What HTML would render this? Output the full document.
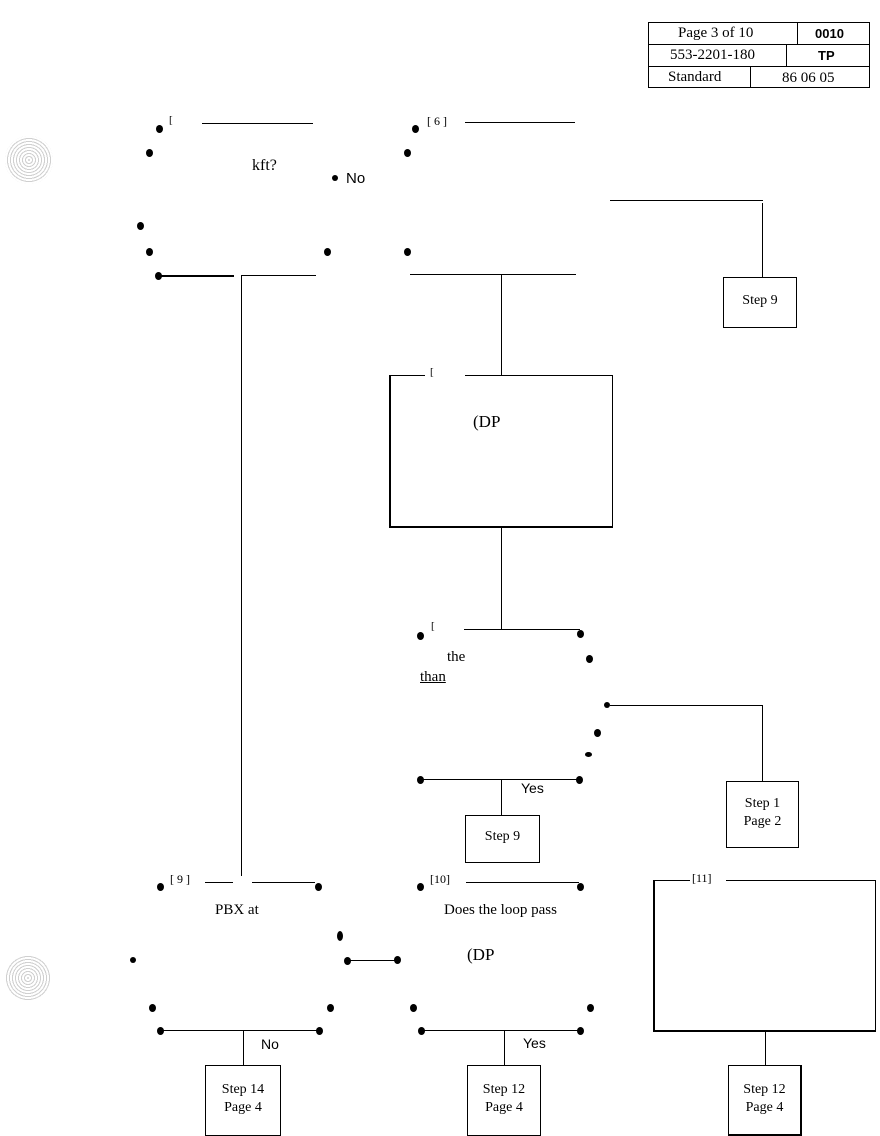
<!DOCTYPE html>
<html><head><meta charset="utf-8"><style>
body{margin:0;width:880px;height:1136px;background:#fff;position:relative;overflow:hidden;font-family:"Liberation Serif",serif;color:#000}
div,span{position:absolute}
.h{height:1px;background:#000}
.v{width:1px;background:#000}
.d{width:7px;height:8px;border-radius:50%;background:#000}
.b{border:1px solid #000;box-sizing:border-box;text-align:center;font-size:14px;line-height:18px}
.t{font-size:14px;white-space:nowrap}
.s{font-family:"Liberation Sans",sans-serif;font-size:14px}
.c{border-radius:50%;background:repeating-radial-gradient(circle,#bbb 0 1px,#fff 1px 3px);opacity:.7}
</style></head><body>
<!-- header table -->
<div style="left:648px;top:22px;width:222px;height:66px;border:1px solid #000;box-sizing:border-box"></div>
<div class="h" style="left:648px;top:44px;width:222px"></div>
<div class="h" style="left:648px;top:66px;width:222px"></div>
<div class="v" style="left:797px;top:22px;height:22px"></div>
<div class="v" style="left:786px;top:44px;height:22px"></div>
<div class="v" style="left:750px;top:66px;height:22px"></div>
<span class="t" style="left:678px;top:25px;font-size:15px">Page 3 of 10</span>
<span class="s" style="left:815px;top:26px;font-weight:bold;font-size:13px">0010</span>
<span class="t" style="left:670px;top:47px;font-size:15px">553-2201-180</span>
<span class="s" style="left:818px;top:48px;font-weight:bold;font-size:13px">TP</span>
<span class="t" style="left:668px;top:69px;font-size:15px">Standard</span>
<span class="t" style="left:782px;top:70px;font-size:15px">86 06 05</span>

<div class="c" style="left:5px;top:136px;width:48px;height:48px"></div>
<div class="c" style="left:5px;top:955px;width:46px;height:46px"></div>

<!-- decision 1 -->
<div class="d" style="left:156px;top:125px"></div>
<span class="t" style="left:169px;top:114px;font-size:11px">[</span>
<div class="h" style="left:202px;top:123px;width:111px"></div>
<div class="d" style="left:146px;top:149px"></div>
<span class="t" style="left:252px;top:157px;font-size:16px">kft?</span>
<div class="d" style="left:332px;top:175px;width:6px;height:6px"></div>
<span class="s" style="left:346px;top:170px;font-size:15px">No</span>
<div class="d" style="left:137px;top:222px"></div>
<div class="d" style="left:146px;top:248px"></div>
<div class="d" style="left:324px;top:248px"></div>
<div class="d" style="left:155px;top:272px"></div>
<div style="left:160px;top:275px;width:74px;height:2px;background:#000"></div>
<div class="h" style="left:241px;top:275px;width:75px"></div>
<div class="v" style="left:241px;top:275px;height:601px"></div>

<!-- decision 2 -->
<div class="d" style="left:412px;top:125px"></div>
<span class="t" style="left:427px;top:114px;font-size:12px">[ 6 ]</span>
<div class="h" style="left:465px;top:122px;width:110px"></div>
<div class="d" style="left:404px;top:149px"></div>
<div class="d" style="left:404px;top:248px"></div>
<div class="h" style="left:410px;top:274px;width:166px"></div>
<div class="h" style="left:610px;top:200px;width:153px"></div>
<div class="v" style="left:762px;top:203px;height:75px"></div>
<div class="b" style="left:723px;top:277px;width:74px;height:51px;padding-top:14px">Step 9</div>
<div class="v" style="left:501px;top:274px;height:102px"></div>

<!-- process box -->
<div style="left:389px;top:375px;width:224px;height:153px;border:1px solid #000;border-width:1px 1px 2px 2px;box-sizing:border-box"></div>
<div style="left:425px;top:368px;width:40px;height:12px;background:#fff"></div>
<span class="t" style="left:430px;top:366px;font-size:11px">[</span>
<span class="t" style="left:473px;top:412px;font-size:17px">(DP</span>
<div class="v" style="left:501px;top:528px;height:101px"></div>

<!-- decision 3 -->
<div class="d" style="left:417px;top:632px"></div>
<span class="t" style="left:431px;top:620px;font-size:11px">[</span>
<div class="h" style="left:464px;top:629px;width:116px"></div>
<div class="d" style="left:577px;top:630px"></div>
<div class="d" style="left:586px;top:655px"></div>
<span class="t" style="left:447px;top:649px;font-size:15px">the</span>
<span class="t" style="left:420px;top:669px;font-size:15px;text-decoration:underline">than</span>
<div class="d" style="left:604px;top:702px;width:6px;height:6px"></div>
<div class="h" style="left:610px;top:705px;width:153px"></div>
<div class="v" style="left:762px;top:705px;height:77px"></div>
<div class="b" style="left:726px;top:781px;width:73px;height:67px;padding-top:13px">Step 1<br>Page 2</div>
<div class="d" style="left:594px;top:729px"></div>
<div class="d" style="left:585px;top:752px;height:5px"></div>
<div class="d" style="left:417px;top:776px"></div>
<div class="d" style="left:576px;top:776px"></div>
<div class="h" style="left:421px;top:779px;width:158px"></div>
<span class="s" style="left:521px;top:780px;font-size:14px">Yes</span>
<div class="v" style="left:501px;top:779px;height:37px"></div>
<div class="b" style="left:465px;top:815px;width:75px;height:48px;padding-top:12px">Step 9</div>

<!-- decision 9 -->
<div class="d" style="left:157px;top:883px"></div>
<span class="t" style="left:170px;top:872px;font-size:12px">[ 9 ]</span>
<div class="h" style="left:205px;top:882px;width:28px"></div>
<div class="h" style="left:252px;top:882px;width:63px"></div>
<div class="d" style="left:315px;top:883px"></div>
<span class="t" style="left:215px;top:902px;font-size:15px">PBX at</span>
<div class="d" style="left:337px;top:931px;width:6px;height:10px"></div>
<div class="d" style="left:130px;top:957px;width:6px;height:6px"></div>
<div class="d" style="left:344px;top:957px"></div>
<div class="h" style="left:350px;top:960px;width:46px"></div>
<div class="d" style="left:394px;top:956px"></div>
<div class="d" style="left:149px;top:1004px"></div>
<div class="d" style="left:327px;top:1004px"></div>
<div class="d" style="left:157px;top:1027px"></div>
<div class="d" style="left:316px;top:1027px"></div>
<div class="h" style="left:161px;top:1030px;width:158px"></div>
<span class="s" style="left:261px;top:1036px">No</span>
<div class="v" style="left:243px;top:1030px;height:36px"></div>
<div class="b" style="left:205px;top:1065px;width:76px;height:71px;padding-top:15px">Step 14<br>Page 4</div>

<!-- decision 10 -->
<div class="d" style="left:417px;top:883px"></div>
<span class="t" style="left:430px;top:872px;font-size:12px">[10]</span>
<div class="h" style="left:466px;top:882px;width:113px"></div>
<div class="d" style="left:577px;top:883px"></div>
<span class="t" style="left:444px;top:902px;font-size:15px">Does the loop pass</span>
<span class="t" style="left:467px;top:945px;font-size:17px">(DP</span>
<div class="d" style="left:410px;top:1004px"></div>
<div class="d" style="left:587px;top:1004px"></div>
<div class="d" style="left:418px;top:1027px"></div>
<div class="d" style="left:577px;top:1027px"></div>
<div class="h" style="left:422px;top:1030px;width:158px"></div>
<span class="s" style="left:523px;top:1035px">Yes</span>
<div class="v" style="left:504px;top:1030px;height:36px"></div>
<div class="b" style="left:467px;top:1065px;width:74px;height:71px;padding-top:15px">Step 12<br>Page 4</div>

<!-- box 11 -->
<div style="left:653px;top:880px;width:223px;height:152px;border:1px solid #000;border-width:1px 1px 2px 2px;box-sizing:border-box"></div>
<div style="left:690px;top:873px;width:36px;height:12px;background:#fff"></div>
<span class="t" style="left:692px;top:871px;font-size:12px">[11]</span>
<div class="v" style="left:765px;top:1032px;height:34px"></div>
<div class="b" style="left:728px;top:1065px;width:74px;height:71px;padding-top:15px;border-width:1px 2px 2px 1px">Step 12<br>Page 4</div>
</body></html>
